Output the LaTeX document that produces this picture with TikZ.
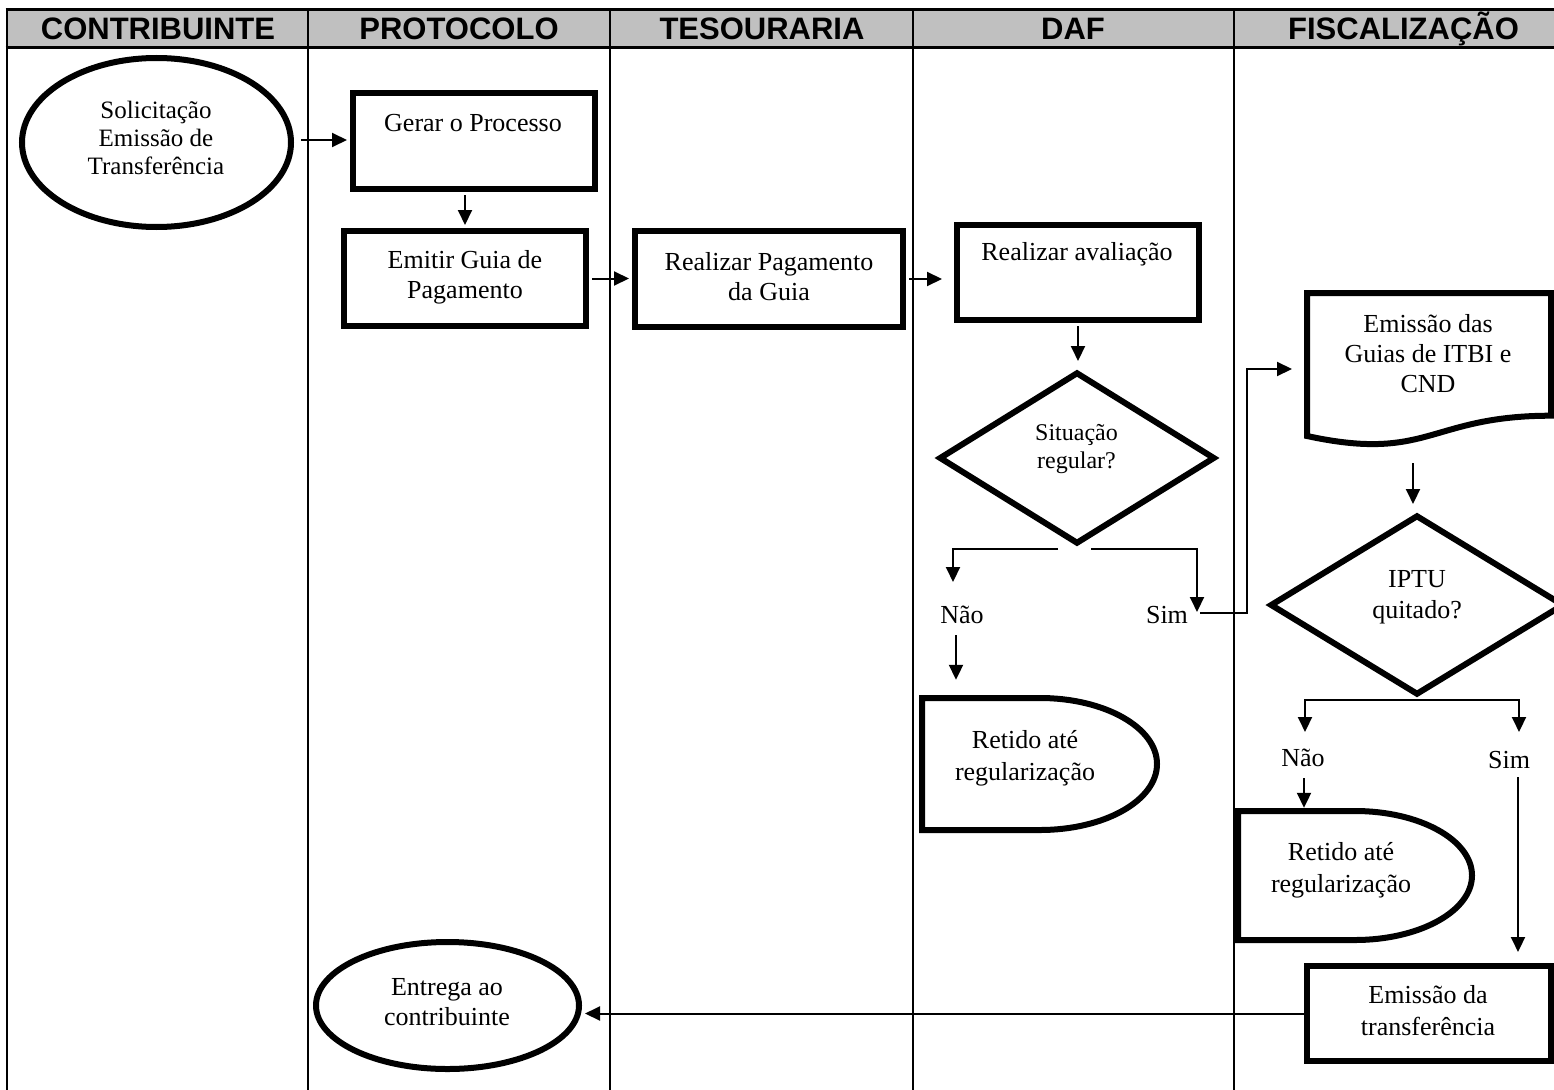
\documentclass[tikz,border=0pt]{standalone}
\usepackage{fontspec}
\setmainfont{Liberation Serif}
\newfontfamily\hdrfont{Liberation Sans}
\usetikzlibrary{arrows.meta,shapes.geometric}
\definecolor{hdrgray}{RGB}{192,192,192}
\begin{document}
\begin{tikzpicture}[x=1pt,y=-1pt,
  thickshape/.style={draw,line width=6pt,fill=white,inner sep=0pt},
  boxnode/.style={thickshape,rectangle},
  ghost/.style={inner sep=0pt,rectangle},
  txt/.style={inner sep=0pt,align=center,font=\fontsize{26}{30}\selectfont},
  hdr/.style={inner sep=0pt,anchor=base,font=\hdrfont\bfseries\fontsize{31}{31}\selectfont},
  lane/.style={line width=2pt},
  arr/.style={line width=2pt,-{Triangle[length=15pt,width=14pt]}},
  conn/.style={line width=2pt}]
\useasboundingbox (0,0) rectangle (1554,1089);
\clip (0,0) rectangle (1554,1089);
% header
\fill[hdrgray] (7,10) rectangle (1570,48);
\draw[line width=3pt] (5.5,10) -- (1570,10);
\draw[line width=3pt] (5.5,48) -- (1570,48);
\draw[line width=2.5pt] (7,8.5) -- (7,1095);
\foreach \lx in {308,610,913,1234} \draw[lane] (\lx,10) -- (\lx,1095);
\node[hdr] (h1) at (158,40) {CONTRIBUINTE};
\node[hdr] (h2) at (459,40) {PROTOCOLO};
\node[hdr] (h3) at (762,40) {TESOURARIA};
\node[hdr] (h4) at (1073,40) {DAF};
\node[hdr] (h5) at (1403.5,40) {FISCALIZAÇÃO};
% shapes
\node[thickshape,ellipse,minimum width=269pt,minimum height=169pt] (sol) at (156.5,142.5) {};
\node[boxnode,minimum width=242pt,minimum height=96pt] (gerar) at (474,141) {};
\node[boxnode,minimum width=242pt,minimum height=95pt] (emitir) at (465,278.5) {};
\node[boxnode,minimum width=268pt,minimum height=96pt] (pag) at (769,279) {};
\node[boxnode,minimum width=242pt,minimum height=95pt] (aval) at (1078,272.5) {};
\node[thickshape,diamond,minimum width=276pt,minimum height=172pt] (sit) at (1077,458) {};
\node[ghost,minimum width=244pt,minimum height=143pt] (doc) at (1429,364.5) {};
\draw[line width=6pt,fill=white] (1307,293) -- (1551,293) -- (1551,415.7)
  .. controls (1429,415.7) and (1429,462.4) .. (1307,436) -- cycle;
\node[thickshape,diamond,minimum width=294pt,minimum height=180pt] (ipt) at (1417,605) {};
\node[ghost,minimum width=235pt,minimum height=132pt] (ret1) at (1039.5,764) {};
\draw[line width=6pt,fill=white] (922,698) -- (1040,698)
  .. controls (1104.6,698) and (1157,727.5) .. (1157,764)
  .. controls (1157,800.5) and (1104.6,830) .. (1040,830) -- (922,830) -- cycle;
\node[ghost,minimum width=234pt,minimum height=129pt] (ret2) at (1355,875.5) {};
\draw[line width=6pt,fill=white] (1238,811) -- (1355,811)
  .. controls (1419.6,811) and (1472,839.9) .. (1472,875.5)
  .. controls (1472,911.1) and (1419.6,940) .. (1355,940) -- (1238,940) -- cycle;
\node[boxnode,minimum width=244pt,minimum height=95pt] (emtr) at (1429,1013.5) {};
\node[thickshape,ellipse,minimum width=263pt,minimum height=127pt] (ent) at (447.5,1005.5) {};
% texts
\node[txt,font=\fontsize{25}{28}\selectfont] (solT) at (156,138) {Solicitação\\Emissão de\\Transferência};
\node[txt] (gerarT) at (473,123) {Gerar o Processo};
\node[txt] (emitirT) at (465,277) {Emitir Guia de\\Pagamento};
\node[txt] (pagT) at (769,277) {Realizar Pagamento\\da Guia};
\node[txt] (avalT) at (1077,254) {Realizar avaliação};
\node[txt,font=\fontsize{24}{28}\selectfont] (sitT) at (1076.5,449) {Situação\\regular?};
\node[txt] (docT) at (1428,354) {Emissão das\\Guias de ITBI e\\CND};
\node[txt,font=\fontsize{26}{31}\selectfont] (iptT) at (1417,597) {IPTU\\quitado?};
\node[txt] (nao1) at (962,615) {Não};
\node[txt] (sim1) at (1167,615) {Sim};
\node[txt] (nao2) at (1303,758) {Não};
\node[txt] (sim2) at (1509,760) {Sim};
\node[txt,font=\fontsize{26}{32}\selectfont] (ret1T) at (1025,758) {Retido até\\regularização};
\node[txt,font=\fontsize{26}{32}\selectfont] (ret2T) at (1341,870) {Retido até\\regularização};
\node[txt,font=\fontsize{26}{32}\selectfont] (emtrT) at (1428,1011) {Emissão da\\transferência};
\node[txt] (entT) at (447,1002) {Entrega ao\\contribuinte};
% connector points
\coordinate (sitL) at (1058,549);
\coordinate (naoA) at (953,582);
\coordinate (sitR) at (1091,549);
\coordinate (simA) at (1197,612);
\coordinate (simB) at (1200,613);
\coordinate (docIn) at (1292,369);
\coordinate (naoB) at (956,635);
\coordinate (docOut) at (1413,463);
\coordinate (iptB) at (1417,700);
\coordinate (nao2A) at (1305,732);
\coordinate (sim2A) at (1519,732);
\coordinate (nao2B) at (1304,778);
\coordinate (sim2B) at (1518,777);
% connectors
\draw[arr,shorten >=3pt] ([xshift=7pt]sol.east |- 0,140) -- (gerar.west |- 0,140);
\draw[arr,shorten <=3pt,shorten >=3pt] (emitir.north |- gerar.south) -- (emitir.north);
\draw[arr,shorten <=3pt,shorten >=3pt] (emitir.east) -- (emitir.east -| pag.west);
\draw[arr,shorten <=3pt,shorten >=12pt] (pag.east) -- (pag.east -| aval.west);
\draw[arr,shorten <=3pt,shorten >=8pt] (aval.south) -- (aval.south |- sit.north);
\draw[arr] (sitL) -| (naoA);
\draw[arr] (sitR) -| (simA);
\draw[arr] (simB) -- ++(47,0) |- (docIn);
\draw[arr,shorten >=18pt] (naoB) -- (naoB |- ret1.north);
\draw[arr,shorten >=8pt] (docOut) -- (docOut |- ipt.north);
\draw[arr] (iptB) -| (nao2A);
\draw[arr] (iptB) -| (sim2A);
\draw[arr,shorten >=3pt] (nao2B) -- (nao2B |- ret2.north);
\draw[arr,shorten >=11pt] (sim2B) -- (sim2B |- emtr.north);
\draw[arr,shorten >=3pt] (emtr.west) -- (emtr.west -| ent.east);
\end{tikzpicture}
\end{document}
